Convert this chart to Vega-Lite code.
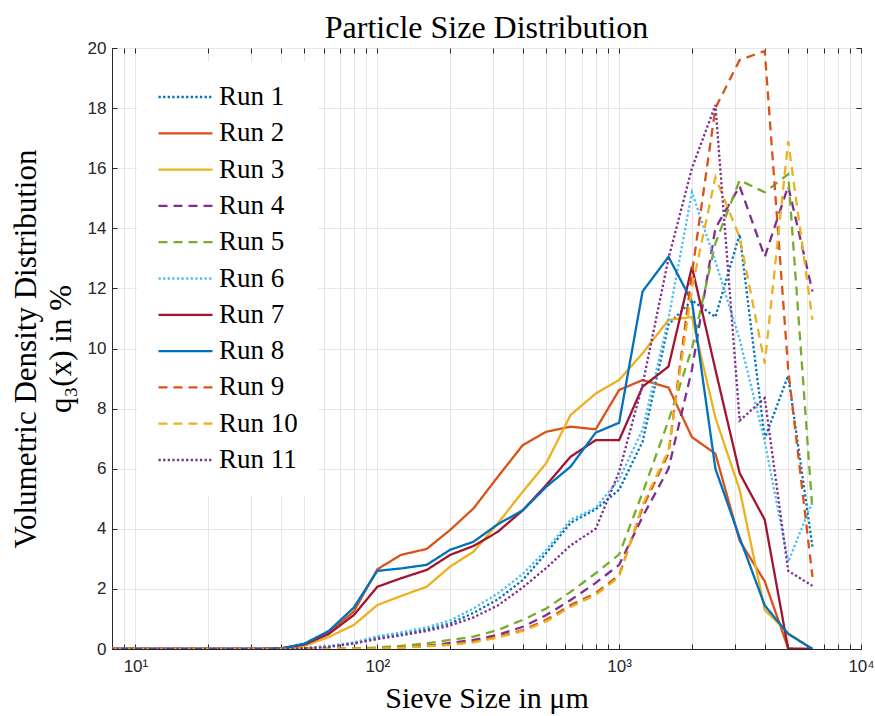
{
"$schema":"https://vega.github.io/schema/vega-lite/v6.json",
"width":749,"height":601,
"autosize":{"type":"none"},
"padding":{"left":112,"top":48,"right":14,"bottom":67},
"background":"white",
"title":{"text":"Particle Size Distribution","font":"Liberation Serif","fontSize":32,"fontWeight":"normal","color":"#000000","offset":-6},
"config":{"view":{"stroke":"#262626","strokeWidth":1}},
"data":{"values":[
{"run":"Run 1","x":8,"y":0},{"run":"Run 1","x":31.5,"y":0},{"run":"Run 1","x":40,"y":0},{"run":"Run 1","x":50,"y":0.02},{"run":"Run 1","x":63,"y":0.08},{"run":"Run 1","x":80,"y":0.2},{"run":"Run 1","x":100,"y":0.38},{"run":"Run 1","x":125,"y":0.5},{"run":"Run 1","x":160,"y":0.65},{"run":"Run 1","x":200,"y":0.85},{"run":"Run 1","x":250,"y":1.2},{"run":"Run 1","x":315,"y":1.65},{"run":"Run 1","x":400,"y":2.3},{"run":"Run 1","x":500,"y":3.2},{"run":"Run 1","x":630,"y":4.2},{"run":"Run 1","x":800,"y":4.65},{"run":"Run 1","x":1000,"y":5.3},{"run":"Run 1","x":1250,"y":6.9},{"run":"Run 1","x":1600,"y":10.8},{"run":"Run 1","x":2000,"y":11.6},{"run":"Run 1","x":2500,"y":11.05},{"run":"Run 1","x":3150,"y":13.8},{"run":"Run 1","x":4000,"y":7.0},{"run":"Run 1","x":5000,"y":9.1},{"run":"Run 1","x":6300,"y":3.4},
{"run":"Run 2","x":8,"y":0},{"run":"Run 2","x":31.5,"y":0},{"run":"Run 2","x":40,"y":0.02},{"run":"Run 2","x":50,"y":0.15},{"run":"Run 2","x":63,"y":0.55},{"run":"Run 2","x":80,"y":1.25},{"run":"Run 2","x":100,"y":2.65},{"run":"Run 2","x":125,"y":3.13},{"run":"Run 2","x":160,"y":3.33},{"run":"Run 2","x":200,"y":3.96},{"run":"Run 2","x":250,"y":4.68},{"run":"Run 2","x":315,"y":5.73},{"run":"Run 2","x":400,"y":6.79},{"run":"Run 2","x":500,"y":7.23},{"run":"Run 2","x":630,"y":7.4},{"run":"Run 2","x":800,"y":7.31},{"run":"Run 2","x":1000,"y":8.62},{"run":"Run 2","x":1250,"y":8.95},{"run":"Run 2","x":1600,"y":8.7},{"run":"Run 2","x":2000,"y":7.05},{"run":"Run 2","x":2500,"y":6.5},{"run":"Run 2","x":3150,"y":3.6},{"run":"Run 2","x":4000,"y":2.25},{"run":"Run 2","x":5000,"y":0.02},{"run":"Run 2","x":6300,"y":0},
{"run":"Run 3","x":8,"y":0},{"run":"Run 3","x":31.5,"y":0},{"run":"Run 3","x":40,"y":0.01},{"run":"Run 3","x":50,"y":0.1},{"run":"Run 3","x":63,"y":0.4},{"run":"Run 3","x":80,"y":0.8},{"run":"Run 3","x":100,"y":1.46},{"run":"Run 3","x":125,"y":1.76},{"run":"Run 3","x":160,"y":2.07},{"run":"Run 3","x":200,"y":2.74},{"run":"Run 3","x":250,"y":3.24},{"run":"Run 3","x":315,"y":4.18},{"run":"Run 3","x":400,"y":5.24},{"run":"Run 3","x":500,"y":6.19},{"run":"Run 3","x":630,"y":7.79},{"run":"Run 3","x":800,"y":8.5},{"run":"Run 3","x":1000,"y":8.95},{"run":"Run 3","x":1250,"y":9.84},{"run":"Run 3","x":1600,"y":10.95},{"run":"Run 3","x":2000,"y":11.05},{"run":"Run 3","x":2500,"y":7.7},{"run":"Run 3","x":3150,"y":5.3},{"run":"Run 3","x":4000,"y":1.3},{"run":"Run 3","x":5000,"y":0.53},{"run":"Run 3","x":6300,"y":0},
{"run":"Run 4","x":8,"y":0},{"run":"Run 4","x":31.5,"y":0},{"run":"Run 4","x":40,"y":0},{"run":"Run 4","x":50,"y":0},{"run":"Run 4","x":63,"y":0},{"run":"Run 4","x":80,"y":0.01},{"run":"Run 4","x":100,"y":0.03},{"run":"Run 4","x":125,"y":0.06},{"run":"Run 4","x":160,"y":0.1},{"run":"Run 4","x":200,"y":0.2},{"run":"Run 4","x":250,"y":0.3},{"run":"Run 4","x":315,"y":0.47},{"run":"Run 4","x":400,"y":0.74},{"run":"Run 4","x":500,"y":1.13},{"run":"Run 4","x":630,"y":1.63},{"run":"Run 4","x":800,"y":2.2},{"run":"Run 4","x":1000,"y":2.8},{"run":"Run 4","x":1250,"y":4.4},{"run":"Run 4","x":1600,"y":6.0},{"run":"Run 4","x":2000,"y":9.3},{"run":"Run 4","x":2500,"y":14.0},{"run":"Run 4","x":3150,"y":15.4},{"run":"Run 4","x":4000,"y":13.05},{"run":"Run 4","x":5000,"y":15.4},{"run":"Run 4","x":6300,"y":11.9},
{"run":"Run 5","x":8,"y":0},{"run":"Run 5","x":31.5,"y":0},{"run":"Run 5","x":40,"y":0},{"run":"Run 5","x":50,"y":0},{"run":"Run 5","x":63,"y":0},{"run":"Run 5","x":80,"y":0.02},{"run":"Run 5","x":100,"y":0.05},{"run":"Run 5","x":125,"y":0.1},{"run":"Run 5","x":160,"y":0.19},{"run":"Run 5","x":200,"y":0.3},{"run":"Run 5","x":250,"y":0.41},{"run":"Run 5","x":315,"y":0.63},{"run":"Run 5","x":400,"y":0.97},{"run":"Run 5","x":500,"y":1.35},{"run":"Run 5","x":630,"y":1.9},{"run":"Run 5","x":800,"y":2.52},{"run":"Run 5","x":1000,"y":3.15},{"run":"Run 5","x":1250,"y":5.2},{"run":"Run 5","x":1600,"y":7.6},{"run":"Run 5","x":2000,"y":10.0},{"run":"Run 5","x":2500,"y":13.5},{"run":"Run 5","x":3150,"y":15.6},{"run":"Run 5","x":4000,"y":15.2},{"run":"Run 5","x":5000,"y":15.8},{"run":"Run 5","x":6300,"y":4.6},
{"run":"Run 6","x":8,"y":0},{"run":"Run 6","x":31.5,"y":0},{"run":"Run 6","x":40,"y":0},{"run":"Run 6","x":50,"y":0.02},{"run":"Run 6","x":63,"y":0.1},{"run":"Run 6","x":80,"y":0.22},{"run":"Run 6","x":100,"y":0.42},{"run":"Run 6","x":125,"y":0.55},{"run":"Run 6","x":160,"y":0.72},{"run":"Run 6","x":200,"y":0.95},{"run":"Run 6","x":250,"y":1.35},{"run":"Run 6","x":315,"y":1.85},{"run":"Run 6","x":400,"y":2.5},{"run":"Run 6","x":500,"y":3.3},{"run":"Run 6","x":630,"y":4.3},{"run":"Run 6","x":800,"y":4.7},{"run":"Run 6","x":1000,"y":5.65},{"run":"Run 6","x":1250,"y":7.3},{"run":"Run 6","x":1600,"y":11.0},{"run":"Run 6","x":2000,"y":15.2},{"run":"Run 6","x":2500,"y":12.9},{"run":"Run 6","x":3150,"y":10.3},{"run":"Run 6","x":4000,"y":6.9},{"run":"Run 6","x":5000,"y":2.9},{"run":"Run 6","x":6300,"y":4.9},
{"run":"Run 7","x":8,"y":0},{"run":"Run 7","x":31.5,"y":0},{"run":"Run 7","x":40,"y":0.02},{"run":"Run 7","x":50,"y":0.15},{"run":"Run 7","x":63,"y":0.5},{"run":"Run 7","x":80,"y":1.13},{"run":"Run 7","x":100,"y":2.07},{"run":"Run 7","x":125,"y":2.35},{"run":"Run 7","x":160,"y":2.63},{"run":"Run 7","x":200,"y":3.13},{"run":"Run 7","x":250,"y":3.43},{"run":"Run 7","x":315,"y":3.9},{"run":"Run 7","x":400,"y":4.62},{"run":"Run 7","x":500,"y":5.46},{"run":"Run 7","x":630,"y":6.4},{"run":"Run 7","x":800,"y":6.95},{"run":"Run 7","x":1000,"y":6.95},{"run":"Run 7","x":1250,"y":8.73},{"run":"Run 7","x":1600,"y":9.4},{"run":"Run 7","x":2000,"y":12.72},{"run":"Run 7","x":2500,"y":9.3},{"run":"Run 7","x":3150,"y":5.85},{"run":"Run 7","x":4000,"y":4.3},{"run":"Run 7","x":5000,"y":0},{"run":"Run 7","x":6300,"y":0},
{"run":"Run 8","x":8,"y":0},{"run":"Run 8","x":31.5,"y":0},{"run":"Run 8","x":40,"y":0.02},{"run":"Run 8","x":50,"y":0.18},{"run":"Run 8","x":63,"y":0.6},{"run":"Run 8","x":80,"y":1.38},{"run":"Run 8","x":100,"y":2.6},{"run":"Run 8","x":125,"y":2.68},{"run":"Run 8","x":160,"y":2.8},{"run":"Run 8","x":200,"y":3.3},{"run":"Run 8","x":250,"y":3.57},{"run":"Run 8","x":315,"y":4.15},{"run":"Run 8","x":400,"y":4.62},{"run":"Run 8","x":500,"y":5.4},{"run":"Run 8","x":630,"y":6.07},{"run":"Run 8","x":800,"y":7.2},{"run":"Run 8","x":1000,"y":7.53},{"run":"Run 8","x":1250,"y":11.9},{"run":"Run 8","x":1600,"y":13.05},{"run":"Run 8","x":2000,"y":11.56},{"run":"Run 8","x":2500,"y":6.0},{"run":"Run 8","x":3150,"y":3.7},{"run":"Run 8","x":4000,"y":1.45},{"run":"Run 8","x":5000,"y":0.5},{"run":"Run 8","x":6300,"y":0},
{"run":"Run 9","x":8,"y":0},{"run":"Run 9","x":31.5,"y":0},{"run":"Run 9","x":40,"y":0},{"run":"Run 9","x":50,"y":0},{"run":"Run 9","x":63,"y":0},{"run":"Run 9","x":80,"y":0.01},{"run":"Run 9","x":100,"y":0.02},{"run":"Run 9","x":125,"y":0.05},{"run":"Run 9","x":160,"y":0.1},{"run":"Run 9","x":200,"y":0.15},{"run":"Run 9","x":250,"y":0.24},{"run":"Run 9","x":315,"y":0.41},{"run":"Run 9","x":400,"y":0.63},{"run":"Run 9","x":500,"y":0.97},{"run":"Run 9","x":630,"y":1.46},{"run":"Run 9","x":800,"y":1.86},{"run":"Run 9","x":1000,"y":2.46},{"run":"Run 9","x":1250,"y":4.7},{"run":"Run 9","x":1600,"y":6.5},{"run":"Run 9","x":2000,"y":12.5},{"run":"Run 9","x":2500,"y":18.0},{"run":"Run 9","x":3150,"y":19.6},{"run":"Run 9","x":4000,"y":19.9},{"run":"Run 9","x":5000,"y":9.3},{"run":"Run 9","x":6300,"y":2.4},
{"run":"Run 10","x":8,"y":0},{"run":"Run 10","x":31.5,"y":0},{"run":"Run 10","x":40,"y":0},{"run":"Run 10","x":50,"y":0},{"run":"Run 10","x":63,"y":0},{"run":"Run 10","x":80,"y":0.01},{"run":"Run 10","x":100,"y":0.02},{"run":"Run 10","x":125,"y":0.04},{"run":"Run 10","x":160,"y":0.09},{"run":"Run 10","x":200,"y":0.14},{"run":"Run 10","x":250,"y":0.22},{"run":"Run 10","x":315,"y":0.38},{"run":"Run 10","x":400,"y":0.6},{"run":"Run 10","x":500,"y":0.92},{"run":"Run 10","x":630,"y":1.4},{"run":"Run 10","x":800,"y":1.8},{"run":"Run 10","x":1000,"y":2.4},{"run":"Run 10","x":1250,"y":4.8},{"run":"Run 10","x":1600,"y":6.6},{"run":"Run 10","x":2000,"y":12.0},{"run":"Run 10","x":2500,"y":15.7},{"run":"Run 10","x":3150,"y":13.7},{"run":"Run 10","x":4000,"y":9.5},{"run":"Run 10","x":5000,"y":16.9},{"run":"Run 10","x":6300,"y":10.95},
{"run":"Run 11","x":8,"y":0},{"run":"Run 11","x":31.5,"y":0},{"run":"Run 11","x":40,"y":0},{"run":"Run 11","x":50,"y":0.02},{"run":"Run 11","x":63,"y":0.07},{"run":"Run 11","x":80,"y":0.18},{"run":"Run 11","x":100,"y":0.33},{"run":"Run 11","x":125,"y":0.45},{"run":"Run 11","x":160,"y":0.6},{"run":"Run 11","x":200,"y":0.78},{"run":"Run 11","x":250,"y":1.05},{"run":"Run 11","x":315,"y":1.45},{"run":"Run 11","x":400,"y":2.05},{"run":"Run 11","x":500,"y":2.7},{"run":"Run 11","x":630,"y":3.45},{"run":"Run 11","x":800,"y":4.0},{"run":"Run 11","x":1000,"y":5.9},{"run":"Run 11","x":1250,"y":8.8},{"run":"Run 11","x":1600,"y":13.0},{"run":"Run 11","x":2000,"y":16.0},{"run":"Run 11","x":2500,"y":18.1},{"run":"Run 11","x":3150,"y":7.6},{"run":"Run 11","x":4000,"y":8.35},{"run":"Run 11","x":5000,"y":2.6},{"run":"Run 11","x":6300,"y":2.1}
]},
"layer":[
{"mark":{"type":"line","strokeWidth":2.3,"clip":true},
"encoding":{
"x":{"field":"x","type":"quantitative","scale":{"type":"log","domain":[8,10000],"nice":false},
 "axis":{"values":[8,9,10,20,30,40,50,60,70,80,90,100,200,300,400,500,600,700,800,900,1000,2000,3000,4000,5000,6000,7000,8000,9000,10000],
 "labelExpr":"datum.value==10?'10¹':datum.value==100?'10²':datum.value==1000?'10³':datum.value==10000?'10⁴':''",
 "labelOverlap":false,"labelBound":false,"labelFlush":false,
 "title":"Sieve Size in μm","titleFont":"Liberation Serif","titleFontSize":30,"titleFontWeight":"normal","titleColor":"#000000","titlePadding":9,
 "labelFont":"Liberation Sans","labelFontSize":17,"labelColor":"#262626","labelPadding":14,
 "tickColor":"#262626","tickSize":-5,"domainColor":"#262626","gridColor":"#E6E6E6","gridWidth":1}},
"y":{"field":"y","type":"quantitative","scale":{"domain":[0,20],"nice":false},
 "axis":{"values":[0,2,4,6,8,10,12,14,16,18,20],
 "title":["Volumetric Density Distribution","q₃(x) in %"],"titleFont":"Liberation Serif","titleFontSize":31,"titleFontWeight":"normal","titleColor":"#000000","titleLineHeight":35,"titlePadding":10,
 "labelFont":"Liberation Sans","labelFontSize":17,"labelColor":"#262626","labelPadding":11,
 "tickColor":"#262626","tickSize":-5,"domainColor":"#262626","gridColor":"#E6E6E6","gridWidth":1}},
"color":{"field":"run","type":"nominal",
 "scale":{"domain":["Run 1","Run 2","Run 3","Run 4","Run 5","Run 6","Run 7","Run 8","Run 9","Run 10","Run 11"],
  "range":["#0072BD","#D95319","#EDB120","#7E2F8E","#77AC30","#4DBEEE","#A2142F","#0072BD","#D95319","#EDB120","#7E2F8E"]},
 "legend":{"title":null,"orient":"none","legendX":25,"legendY":14,"fillColor":"white","padding":20,"symbolType":"stroke","symbolSize":2916,"symbolStrokeWidth":2.3,"labelFont":"Liberation Serif","labelFontSize":27,"labelColor":"#000000","labelOffset":5,"clipHeight":30,"rowPadding":6.3}},
"strokeDash":{"field":"run","type":"nominal",
 "scale":{"domain":["Run 1","Run 2","Run 3","Run 4","Run 5","Run 6","Run 7","Run 8","Run 9","Run 10","Run 11"],
  "range":[[2.3,2.3],[1,0],[1,0],[9,6],[9,6],[2.3,2.3],[1,0],[1,0],[9,6],[9,6],[2.3,2.3]]},
 "legend":{"title":null,"orient":"none","legendX":25,"legendY":14,"fillColor":"white","padding":20,"symbolType":"stroke","symbolSize":2916,"symbolStrokeWidth":2.3,"labelFont":"Liberation Serif","labelFontSize":27,"labelColor":"#000000","labelOffset":5,"clipHeight":30,"rowPadding":6.3}}
}},
{"mark":{"type":"line","strokeOpacity":0,"clip":true},
"encoding":{
"detail":{"field":"run","type":"nominal"},
"x":{"field":"x","type":"quantitative","scale":{"type":"log","domain":[8,10000],"nice":false},
 "axis":{"orient":"top","values":[8,9,10,20,30,40,50,60,70,80,90,100,200,300,400,500,600,700,800,900,1000,2000,3000,4000,5000,6000,7000,8000,9000,10000],"labels":false,"grid":false,"title":null,"domain":false,"tickColor":"#262626","tickSize":-5}},
"y":{"field":"y","type":"quantitative","scale":{"domain":[0,20],"nice":false},
 "axis":{"orient":"right","values":[0,2,4,6,8,10,12,14,16,18,20],"labels":false,"grid":false,"title":null,"domain":false,"tickColor":"#262626","tickSize":-5}}
}}
],
"resolve":{"scale":{"x":"independent","y":"independent"},"axis":{"x":"independent","y":"independent"}}
}
